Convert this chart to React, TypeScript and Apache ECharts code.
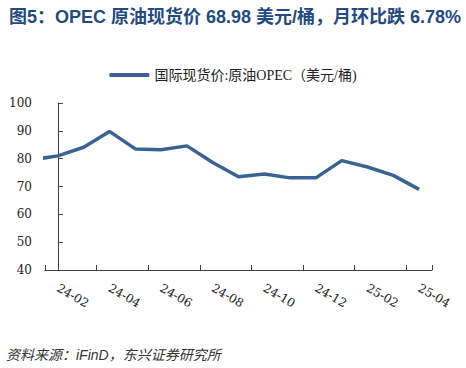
import React, { useEffect, useRef } from "react";
import * as echarts from "echarts";

const TITLE = "图5：OPEC 原油现货价 68.98 美元/桶，月环比跌 6.78%";
const SERIES_NAME = "国际现货价:原油OPEC（美元/桶)";
const SOURCE = "资料来源：iFinD，东兴证券研究所";

// Monthly OPEC basket price; the first month lies just before the visible range
const months = [
  "24-01", "24-02", "24-03", "24-04", "24-05", "24-06", "24-07", "24-08",
  "24-09", "24-10", "24-11", "24-12", "25-01", "25-02", "25-03", "25-04",
];
const prices = [
  79.6, 81.0, 84.1, 89.8, 83.5, 83.2, 84.6, 78.6,
  73.5, 74.5, 73.1, 73.1, 79.3, 77.0, 74.0, 68.98,
];
const yTicks = { min: 40, max: 100, interval: 10 };

export default function App() {
  const ref = useRef<HTMLDivElement>(null);

  useEffect(() => {
    if (!ref.current) return;
    const chart = echarts.init(ref.current, null, { renderer: "svg" });
    const visibleMonths = months.slice(1);
    const serif = "DejaVu Serif, Liberation Serif, serif";
    const axisColor = "#404040";

    chart.setOption({
      animation: false,
      backgroundColor: "#ffffff",
      title: {
        text: TITLE,
        left: 4,
        top: 3,
        textStyle: {
          fontSize: 18,
          fontWeight: "bold",
          color: "#244a80",
          fontFamily: "Liberation Sans, Noto Sans CJK SC, sans-serif",
        },
      },
      legend: {
        data: [SERIES_NAME],
        left: "center",
        top: 63,
        icon: "roundRect",
        itemWidth: 40,
        itemHeight: 4,
        textStyle: {
          fontSize: 14,
          color: "#222",
          fontFamily: "Liberation Serif, Noto Sans CJK SC, serif",
        },
      },
      grid: { left: 45, right: 34, top: 103, bottom: 98, containLabel: false },
      xAxis: [
        {
          type: "category",
          data: visibleMonths,
          boundaryGap: true,
          axisLine: { show: true, lineStyle: { color: axisColor, width: 1 } },
          axisTick: { show: true, inside: true, length: 5, interval: 1, lineStyle: { color: axisColor } },
          axisLabel: {
            interval: 1,
            rotate: -30,
            margin: 17,
            fontSize: 12,
            color: "#222",
            fontFamily: serif,
          },
          splitLine: { show: false },
        },
        {
          type: "value",
          min: -0.5,
          max: months.length - 1.5,
          show: false,
          splitLine: { show: false },
        },
      ],
      yAxis: {
        type: "value",
        min: yTicks.min,
        max: yTicks.max,
        interval: yTicks.interval,
        axisLine: { show: true, lineStyle: { color: axisColor, width: 1 } },
        axisTick: { show: true, inside: true, length: 5, lineStyle: { color: axisColor } },
        axisLabel: { margin: 13, fontSize: 12, color: "#222", fontFamily: serif },
        splitLine: { show: false },
      },
      series: [
        {
          name: SERIES_NAME,
          type: "line",
          xAxisIndex: 1,
          data: prices.map((v, i) => [i - 1, v]),
          symbol: "none",
          clip: true,
          lineStyle: { color: "#3a6393", width: 3.5 },
          itemStyle: { color: "#3a6393" },
        },
      ],
      graphic: [
        {
          type: "text",
          left: 6,
          top: 348,
          style: {
            text: SOURCE,
            fontSize: 14,
            fontStyle: "italic",
            fill: "#333",
            fontFamily: "Liberation Sans, Noto Sans CJK SC, sans-serif",
          },
        },
      ],
    });

    return () => chart.dispose();
  }, []);

  return (
    <div
      ref={ref}
      style={{ position: "fixed", left: 0, top: 0, width: 466, height: 368 }}
    />
  );
}
